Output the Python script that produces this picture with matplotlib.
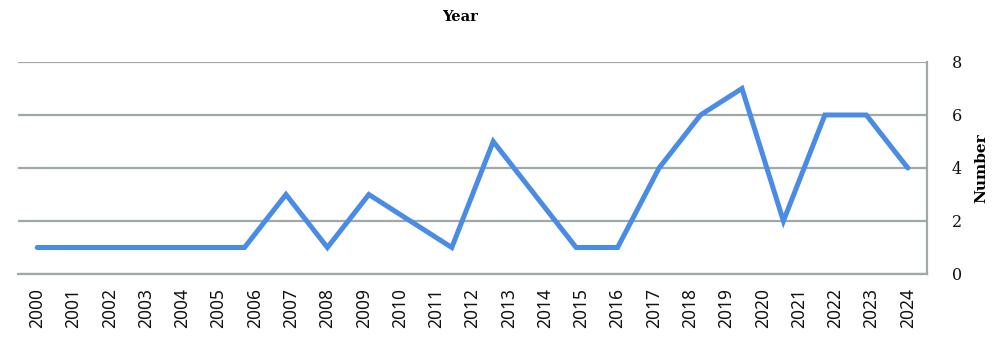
import matplotlib
matplotlib.use("Agg")
import matplotlib.pyplot as plt
import numpy as np

# Category labels shown on the x axis
years = [str(y) for y in range(2000, 2025)]
# Plotted series (as drawn in the reference line)
counts = [1, 1, 1, 1, 1, 1, 3, 1, 3, 2, 1, 5, 3, 1, 1, 4, 6, 7, 2, 6, 6, 4]
y_ticks = [0, 2, 4, 6, 8]

fig = plt.figure(figsize=(10, 3.39), dpi=100)
ax = fig.add_axes([0.018, 1 - 274 / 339, 0.927 - 0.018, (274 - 62) / 339])

grid_c = "#a0a8a8"
pad = 0.53
n_lab = len(years)
ax.set_xlim(-pad, n_lab - 1 + pad)
ax.set_xticks(range(n_lab))
ax.set_xticklabels(years, rotation=90, family="Noto Sans", fontsize=12.5, color="#111111")
ax.set_ylim(0, 8)
ax.set_yticks(y_ticks)
ax.yaxis.tick_right()
ax.set_yticklabels([str(t) for t in y_ticks], family="DejaVu Serif", fontsize=11.5, color="#111111")
ax.tick_params(axis="both", length=0)
ax.tick_params(axis="x", pad=10)
ax.tick_params(axis="y", pad=18)
ax.grid(axis="y", color=grid_c, linewidth=1.6)
ax.set_axisbelow(True)
for s in ["top", "left"]:
    ax.spines[s].set_visible(False)
ax.spines["bottom"].set_color(grid_c)
ax.spines["bottom"].set_linewidth(1.6)
ax.spines["right"].set_color(grid_c)
ax.spines["right"].set_linewidth(1.6)

# secondary category axis for the plotted series
ax2 = ax.twiny()
n_pts = len(counts)
scale = (n_pts - 1) / (n_lab - 1)
ax2.set_xlim(-pad * scale, n_pts - 1 + pad * scale)
ax2.set_ylim(0, 8)
ax2.plot(range(n_pts), counts, color="#4a8be6", linewidth=3.6, solid_joinstyle="miter", solid_capstyle="round")
ax2.set_xticks([])
for s in ax2.spines.values():
    s.set_visible(False)

fig.text(0.46, 1 - 17 / 339, "Year", ha="center", va="center", family="DejaVu Serif",
         fontweight="bold", fontsize=10.5)
fig.text(0.981, 1 - 168 / 339, "Number", ha="center", va="center", rotation=90,
         family="DejaVu Serif", fontweight="bold", fontsize=11)

fig.savefig("out.png", dpi=100)
